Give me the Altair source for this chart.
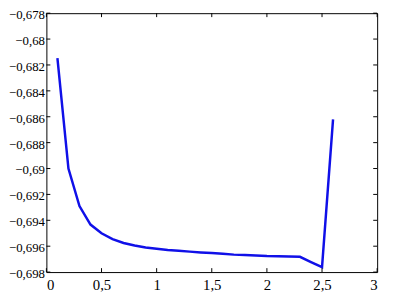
import altair as alt
import pandas as pd

x_vals = [0.1, 0.2, 0.3, 0.4, 0.5, 0.6, 0.7, 0.8, 0.9, 1.0, 1.1, 1.2, 1.3,
          1.4, 1.5, 1.6, 1.7, 1.8, 1.9, 2.0, 2.1, 2.2, 2.3, 2.4, 2.5, 2.6]
y_vals = [-0.68148, -0.69000, -0.69290, -0.69433, -0.69500, -0.69545,
          -0.69575, -0.69595, -0.69610, -0.69620, -0.69630, -0.69635,
          -0.69642, -0.69648, -0.69653, -0.69658, -0.69665, -0.69668,
          -0.69672, -0.69676, -0.69678, -0.69680, -0.69682, -0.69723,
          -0.69762, -0.68620]
x_ticks = [0, 0.5, 1, 1.5, 2, 2.5, 3]
y_ticks = [-0.698, -0.696, -0.694, -0.692, -0.69, -0.688, -0.686, -0.684,
           -0.682, -0.68, -0.678]

df = pd.DataFrame({"x": x_vals, "y": y_vals})
dfx = pd.DataFrame({"t": x_ticks})
dfy = pd.DataFrame({"t": y_ticks})

W, H = 336, 263
TL = 4
FONT = "Liberation Serif"
LBL = "replace(replace(format(datum.value, '~g'), '.', ','), '-', '\u2212')"

xs = alt.Scale(domain=[0, 3], nice=False, zero=False)
ys = alt.Scale(domain=[-0.698, -0.678], nice=False, zero=False)

x_axis = alt.Axis(orient="bottom", values=x_ticks, labelExpr=LBL, ticks=False,
                  domain=False, grid=False, title=None, labelFont=FONT,
                  labelFontSize=15, labelColor="black", labelPadding=6)
y_axis = alt.Axis(orient="left", values=y_ticks, labelExpr=LBL, ticks=False,
                  domain=False, grid=False, title=None, labelFont=FONT,
                  labelFontSize=13, labelColor="black", labelPadding=2,
                  labelOffset=1.5)

main = alt.Chart(df).mark_line(color="#1010e8", strokeWidth=2.5).encode(
    x=alt.X("x:Q", scale=xs, axis=x_axis),
    y=alt.Y("y:Q", scale=ys, axis=y_axis),
)

tick_style = dict(color="black", strokeWidth=1)
bottom_t = alt.Chart(dfx).mark_rule(**tick_style).encode(
    x=alt.X("t:Q", scale=xs, axis=x_axis), y=alt.value(H), y2=alt.value(H - TL))
top_t = alt.Chart(dfx).mark_rule(**tick_style).encode(
    x=alt.X("t:Q", scale=xs, axis=x_axis), y=alt.value(0), y2=alt.value(TL))
left_t = alt.Chart(dfy).mark_rule(**tick_style).encode(
    y=alt.Y("t:Q", scale=ys, axis=y_axis), x=alt.value(0), x2=alt.value(TL))
right_t = alt.Chart(dfy).mark_rule(**tick_style).encode(
    y=alt.Y("t:Q", scale=ys, axis=y_axis), x=alt.value(W), x2=alt.value(W - TL))

chart = alt.layer(main, bottom_t, top_t, left_t, right_t).properties(
    width=W, height=H,
    autosize=alt.AutoSizeParams(type="none"),
    padding={"left": 39, "top": 3, "right": 10, "bottom": 20},
).configure(background="white").configure_view(stroke="black", strokeWidth=1)

chart.save("out.html", embed_options={"renderer": "svg", "actions": False})
